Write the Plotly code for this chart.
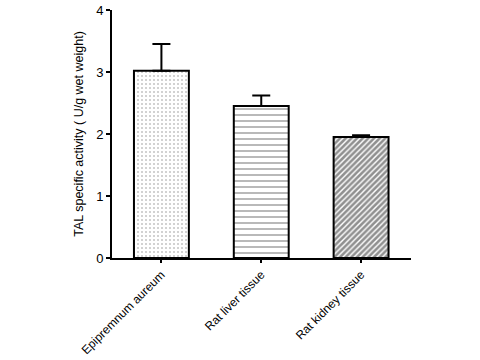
import plotly.graph_objects as go

categories = ["Epipremnum aureum", "Rat liver tissue", "Rat kidney tissue"]
values = [3.02, 2.45, 1.95]
errors_up = [0.43, 0.17, 0.03]
y_ticks = [0, 1, 2, 3, 4]

patterns = [".", "-", "/"]
pat_size = [4, 6, 4]
pat_solid = [0.2, 0.25, 0.65]
pat_color = ["#888888", "#444444", "#222222"]

fig = go.Figure()
for i, c in enumerate(categories):
    fig.add_trace(go.Bar(
        x=[c], y=[values[i]],
        width=0.55,
        marker=dict(
            color="white",
            line=dict(color="black", width=2),
            pattern=dict(shape=patterns[i], fgcolor=pat_color[i], bgcolor="white",
                         size=pat_size[i], solidity=pat_solid[i]),
        ),
        error_y=dict(type="data", symmetric=False, array=[errors_up[i]], arrayminus=[0],
                     color="black", thickness=2, width=9),
        showlegend=False,
    ))

fig.update_layout(
    width=480, height=360,
    margin=dict(l=112, r=69, t=10, b=102),
    plot_bgcolor="white", paper_bgcolor="white",
    font=dict(family="Liberation Sans, Arial", size=13, color="black"),
)
fig.update_xaxes(
    type="category", categoryorder="array", categoryarray=categories,
    range=[-0.495, 2.5], automargin=False,
    showline=True, linecolor="black", linewidth=2,
    ticks="outside", ticklen=3, tickwidth=2, tickcolor="black",
    tickangle=-45, tickfont=dict(size=12),
    showgrid=False, zeroline=False,
)
fig.update_yaxes(
    range=[0, 4], tickvals=y_ticks, ticktext=[str(v) for v in y_ticks],
    automargin=False,
    showline=True, linecolor="black", linewidth=2,
    ticks="outside", ticklen=4, tickwidth=2, tickcolor="black",
    tickfont=dict(size=13),
    showgrid=False, zeroline=False,
    title=dict(text="TAL specific activity ( U/g wet weight)", font=dict(size=12.5), standoff=10),
)

fig.write_html("out.html", config={"displayModeBar": False},
               post_script="document.body.style.margin='0';document.body.style.overflow='hidden';")
